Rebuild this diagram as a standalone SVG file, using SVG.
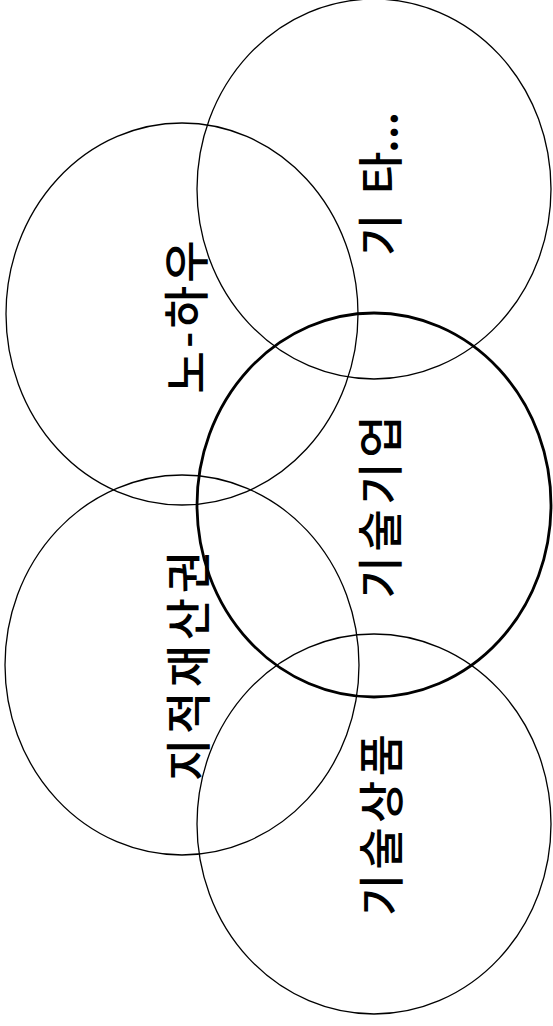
<svg xmlns="http://www.w3.org/2000/svg" width="553" height="1026" viewBox="0 0 553 1026">
<style>
.c{fill:none;stroke:#000;stroke-width:1.3}
.b{fill:none;stroke:#000;stroke-width:2.8}
.t{font-family:"Noto Sans CJK KR","Noto Sans",sans-serif;font-size:46px;font-weight:500;fill:#000;dominant-baseline:central}
</style>
<rect width="553" height="1026" fill="#fff"/>
<g id="node-other">
<ellipse class="c" cx="374" cy="189" rx="177" ry="190"/>
<text class="t" transform="translate(377,185) rotate(-90)"><tspan x="-71">기</tspan><tspan x="-9">타</tspan><tspan x="32">...</tspan></text>
</g>
<g id="node-knowhow">
<ellipse class="c" cx="182" cy="314" rx="176" ry="191"/>
<text class="t" transform="translate(183,317) rotate(-90)" text-anchor="middle" textLength="153" lengthAdjust="spacing">노-하우</text>
</g>
<g id="node-ip">
<ellipse class="c" cx="182" cy="665" rx="177" ry="190"/>
<text class="t" transform="translate(185,666) rotate(-90)" text-anchor="middle" textLength="230" lengthAdjust="spacing">지적재산권</text>
</g>
<g id="node-product">
<ellipse class="c" cx="374" cy="824" rx="177" ry="190"/>
<text class="t" transform="translate(378,825) rotate(-90)" text-anchor="middle" textLength="182" lengthAdjust="spacing">기술상품</text>
</g>
<g id="node-company">
<ellipse class="b" cx="374" cy="505" rx="177" ry="192"/>
<text class="t" transform="translate(377,507) rotate(-90)" text-anchor="middle" textLength="183" lengthAdjust="spacing">기술기업</text>
</g>
</svg>
